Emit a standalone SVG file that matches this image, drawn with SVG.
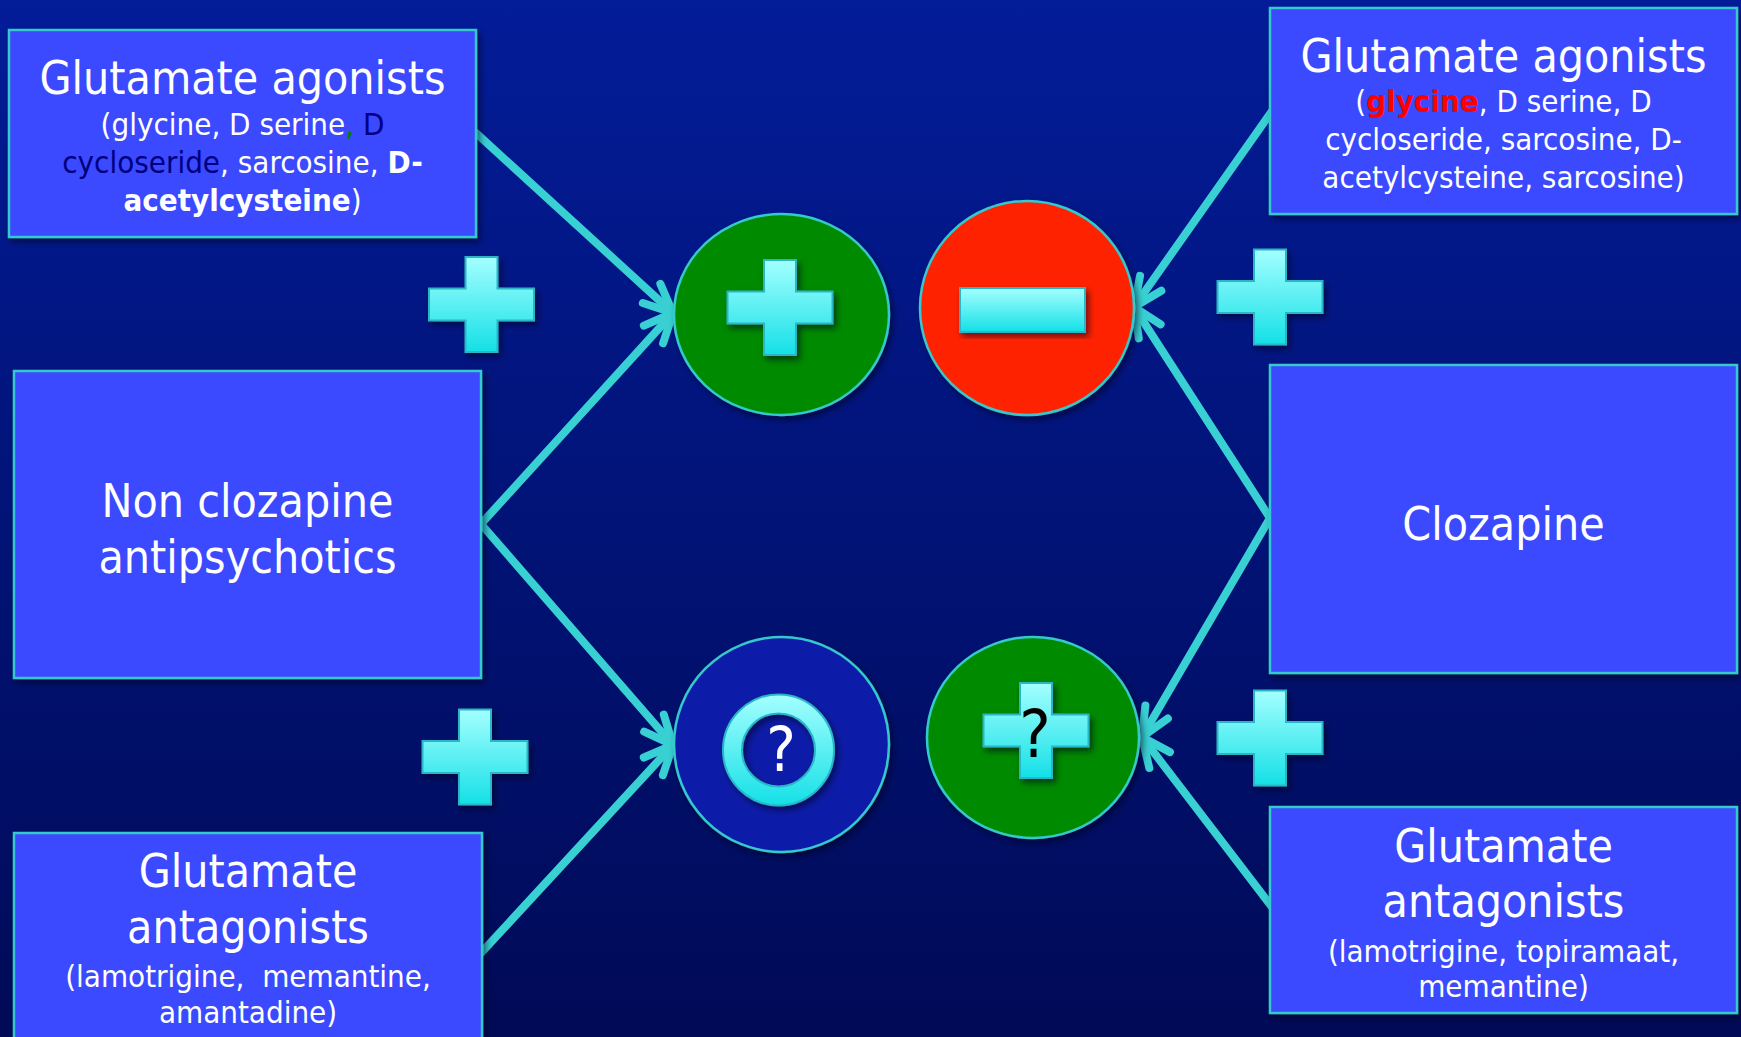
<svg xmlns="http://www.w3.org/2000/svg" width="1741" height="1037" viewBox="0 0 1741 1037">
<defs>
<linearGradient id="bg" x1="0" y1="0" x2="0" y2="1">
<stop offset="0" stop-color="#031C98"/>
<stop offset="1" stop-color="#000A56"/>
</linearGradient>
<linearGradient id="cyan" x1="0" y1="0" x2="0" y2="1">
<stop offset="0" stop-color="#A4FFFF"/>
<stop offset="1" stop-color="#14E0E6"/>
</linearGradient>
<filter id="sh" x="-10%" y="-10%" width="125%" height="125%">
<feDropShadow dx="3" dy="4" stdDeviation="3" flood-color="#000020" flood-opacity="0.55"/>
</filter>
<marker id="ah" markerUnits="userSpaceOnUse" orient="auto" overflow="visible" markerWidth="10" markerHeight="10" refX="0" refY="0">
<path d="M -29 -13 L 0 0 L -29 13" fill="none" stroke="#38D0D2" stroke-width="8" stroke-linecap="round" stroke-linejoin="round"/>
</marker>
<path id="plus" d="M -16 -47.5 H 16 V -16 H 52.5 V 16 H 16 V 47.5 H -16 V 16 H -52.5 V -16 H -16 Z"/>
<style>
.box{fill:#3A48FF;stroke:#35C8CC;stroke-width:2.5;filter:url(#sh)}
.t{font-family:"DejaVu Sans Condensed","DejaVu Sans",sans-serif;font-stretch:condensed;fill:#FFFFFF;text-anchor:middle}
.big{font-size:46px}
.small{font-size:31px}
.b{font-weight:bold}
.conn{fill:none;stroke:#38D0D2;stroke-width:8;stroke-linecap:round;marker-end:url(#ah)}
.sym{fill:url(#cyan);stroke:#2AB6C6;stroke-width:2;filter:url(#sh)}
.circ{stroke:#35C8CC;stroke-width:2.5;filter:url(#sh)}
</style>
</defs>
<rect x="0" y="0" width="1741" height="1037" fill="url(#bg)"/>

<g id="connectors">
<path class="conn" d="M 476 133 L 673 313"/>
<path class="conn" d="M 481 524 L 673 313"/>
<path class="conn" d="M 481 524 L 673 745"/>
<path class="conn" d="M 481 953 L 673 745"/>
<path class="conn" d="M 1272 111 L 1134 307"/>
<path class="conn" d="M 1270 518 L 1134 307"/>
<path class="conn" d="M 1270 518 L 1142 737"/>
<path class="conn" d="M 1272 907 L 1142 737"/>
</g>

<g id="box-agonists-left">
<rect class="box" x="9" y="30" width="467" height="207"/>
<text class="t big" x="242.5" y="94">Glutamate agonists</text>
<text class="t small" x="242.5" y="135">(glycine, D serine<tspan fill="#008000">,</tspan><tspan fill="#000080"> D</tspan></text>
<text class="t small" x="242.5" y="173"><tspan fill="#000080">cycloseride</tspan>, sarcosine, <tspan class="b">D-</tspan></text>
<text class="t small" x="242.5" y="211"><tspan class="b">acetylcysteine</tspan>)</text>
</g>

<g id="box-agonists-right">
<rect class="box" x="1270" y="8" width="467" height="206"/>
<text class="t big" x="1503.5" y="72">Glutamate agonists</text>
<text class="t small" x="1503.5" y="112">(<tspan class="b" fill="#FF0000">glycine</tspan>, D serine, D</text>
<text class="t small" x="1503.5" y="150">cycloseride, sarcosine, D-</text>
<text class="t small" x="1503.5" y="188">acetylcysteine, sarcosine)</text>
</g>

<g id="box-nonclozapine">
<rect class="box" x="14" y="371" width="467" height="307"/>
<text class="t big" x="247.5" y="517">Non clozapine</text>
<text class="t big" x="247.5" y="573">antipsychotics</text>
</g>

<g id="box-clozapine">
<rect class="box" x="1270" y="365" width="467" height="308"/>
<text class="t big" x="1503.5" y="540">Clozapine</text>
</g>

<g id="box-antagonists-left">
<rect class="box" x="14" y="833" width="468" height="220"/>
<text class="t big" x="248" y="887">Glutamate</text>
<text class="t big" x="248" y="943">antagonists</text>
<text class="t small" x="248" y="987" xml:space="preserve">(lamotrigine,  memantine,</text>
<text class="t small" x="248" y="1023">amantadine)</text>
</g>

<g id="box-antagonists-right">
<rect class="box" x="1270" y="807" width="467" height="206"/>
<text class="t big" x="1503.5" y="862">Glutamate</text>
<text class="t big" x="1503.5" y="917">antagonists</text>
<text class="t small" x="1503.5" y="962">(lamotrigine, topiramaat,</text>
<text class="t small" x="1503.5" y="997">memantine)</text>
</g>

<g id="circle-plus-top">
<ellipse class="circ" cx="781.5" cy="314.5" rx="107.5" ry="100.5" fill="#008A00"/>
<use href="#plus" class="sym" transform="translate(780 307.5)"/>
</g>

<g id="circle-minus">
<ellipse class="circ" cx="1027" cy="308" rx="107" ry="107" fill="#FF2400"/>
<rect class="sym" x="960" y="288" width="125" height="44"/>
</g>

<g id="circle-question">
<circle class="circ" cx="781.5" cy="744.5" r="107.5" fill="#0A1EA8"/>
<path class="sym" fill-rule="evenodd" d="M 723 750 A 55.5 55.5 0 1 0 834 750 A 55.5 55.5 0 1 0 723 750 Z M 742 750 A 36.5 36.5 0 1 1 815 750 A 36.5 36.5 0 1 1 742 750 Z"/>
<text class="t" x="781" y="771" style="font-size:62px">?</text>
</g>

<g id="circle-plus-question">
<ellipse class="circ" cx="1033" cy="737.5" rx="106" ry="100.5" fill="#008A00"/>
<use href="#plus" class="sym" transform="translate(1036 730.5)"/>
<text class="t" x="1035" y="757" style="font-size:66px;fill:#000000">?</text>
</g>

<g id="plus-top-left"><use href="#plus" class="sym" transform="translate(481.5 304.5)"/></g>
<g id="plus-top-right"><use href="#plus" class="sym" transform="translate(1270 297)"/></g>
<g id="plus-bottom-left"><use href="#plus" class="sym" transform="translate(475 757)"/></g>
<g id="plus-bottom-right"><use href="#plus" class="sym" transform="translate(1270 738)"/></g>
</svg>
